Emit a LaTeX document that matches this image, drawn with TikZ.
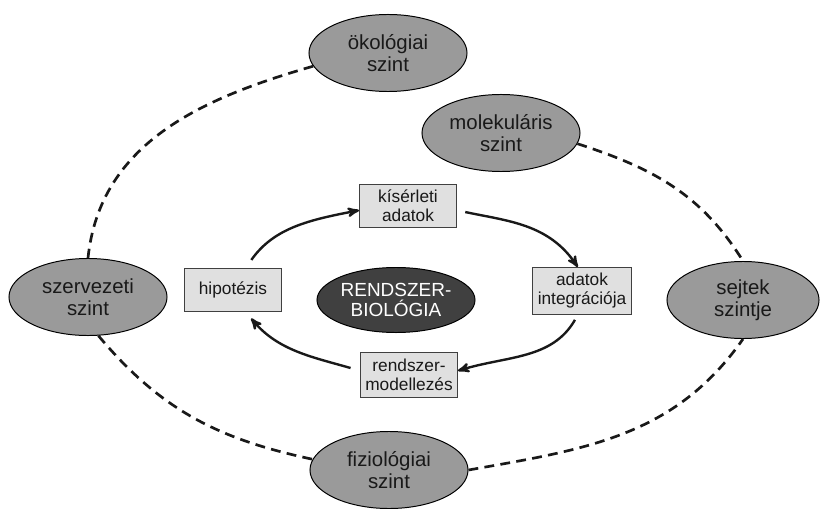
\documentclass[tikz,border=0pt]{standalone}
\usepackage{fontspec}
\setmainfont{Liberation Sans}
\usepackage{tikz}
\usetikzlibrary{arrows, shapes.geometric}

\definecolor{lvlgray}{HTML}{9A9A9A}
\definecolor{boxgray}{HTML}{E0E0E0}
\definecolor{coregray}{HTML}{404040}

\tikzset{
    lvl/.style={ellipse, draw=black, line width=0.7pt, fill=lvlgray, inner sep=0pt,
        minimum width=3.95cm, minimum height=1.925cm, align=center,
        font=\fontsize{14.5}{15.5}\selectfont, text=black!90},
    cycbox/.style={rectangle, draw=black!75, line width=0.7pt, fill=boxgray,
        minimum width=2.425cm, minimum height=1.075cm, inner sep=2pt, align=center,
        font=\fontsize{12.3}{13.5}\selectfont, text=black!90},
    core/.style={ellipse, draw=black, line width=0.7pt, fill=coregray, inner sep=0pt,
        minimum width=3.95cm, minimum height=1.625cm, align=center,
        font=\fontsize{13.5}{14.5}\selectfont, text=white},
    flow/.style={-stealth', line width=1.7pt, black!90},
    link/.style={line width=1.9pt, dash pattern=on 7pt off 4.5pt, black!90}
}

\begin{document}
\begin{tikzpicture}[x=0.025cm, y=0.025cm]
    \useasboundingbox (0, 0) rectangle (820, 508);
    % levels
    \node[lvl] (oko) at (388, 455) {ökológiai\\szint};
    \node[lvl] (mol) at (501, 375) {molekuláris\\szint};
    \node[lvl] (szer) at (88, 211) {szervezeti\\szint};
    \node[lvl, minimum width=3.8cm] (sejt) at (743, 208) {sejtek\\szintje};
    \node[lvl] (fiz) at (389, 38) {fiziológiai\\szint};
    % cycle
    \node[core] (rb) at (396, 208) {RENDSZER-\\BIOLÓGIA};
    \node[cycbox] (kis) at (408, 302) {kísérleti\\adatok};
    \node[cycbox] (hip) at (233, 218) {hipotézis};
    \node[cycbox, minimum width=2.475cm, minimum height=1.175cm] (adat) at (582, 217) {adatok\\integrációja};
    \node[cycbox, minimum height=1.125cm] (rmod) at (409, 133) {rendszer-\\modellezés};
    \draw[flow, shorten <=7pt] (hip.60) to[out=55, in=191] (kis.185);
    \draw[flow, shorten <=6pt] (kis.-5) to[out=-12, in=124] (adat.100);
    \draw[flow, shorten <=4pt] (adat.-100) to[out=240, in=17] (rmod.5);
    \draw[flow, shorten <=7pt, shorten >=6pt] (rmod.175) to[out=164, in=-50] (hip.-60);
    % outer ring
    \draw[link] (oko.190) to[out=196, in=84] (szer.north);
    \draw[link] (mol.-8) to[out=-18, in=122] (sejt.north);
    \draw[link] (szer.-75) to[out=-50, in=168] (fiz.172);
    \draw[link] (fiz.east) to[out=10, in=235] (sejt.south);
\end{tikzpicture}
\end{document}
